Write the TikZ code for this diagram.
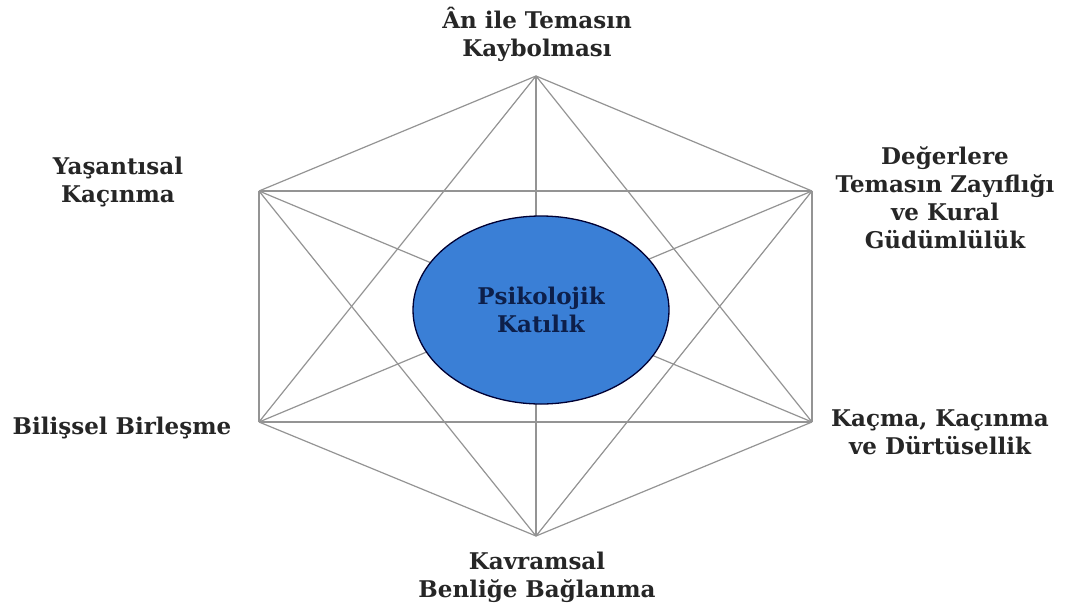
\documentclass[tikz,border=0pt]{standalone}
\usepackage{fontspec}
\setmainfont{DejaVu Serif}
\usetikzlibrary{shapes.geometric}
\begin{document}
\begin{tikzpicture}[x=1pt,y=-1pt,
  edge/.style={draw=black!42, line width=1.2pt},
  lbl/.style={align=center, font=\bfseries\fontsize{23}{28}\selectfont, text=black!85, inner sep=0pt},
  core/.style={ellipse, draw=black!80!blue, line width=1.3pt, fill=blueMain, minimum width=256pt, minimum height=188pt, inner sep=0pt, align=center, text=navyText, font=\bfseries\fontsize{23}{28}\selectfont}]
\definecolor{blueMain}{HTML}{3A7FD6}
\definecolor{navyText}{HTML}{0D1F4A}
\useasboundingbox (0,0) rectangle (1078,608);
\fill[white] (0,0) rectangle (1078,608);
\coordinate (T) at (536,76);
\coordinate (UL) at (259,191);
\coordinate (UR) at (812,191);
\coordinate (LL) at (259,422);
\coordinate (LR) at (812,422);
\coordinate (B) at (536,536);
\foreach \a/\b in {T/UL,T/UR,T/LL,T/LR,T/B,UL/UR,UL/LL,UL/LR,UL/B,UR/LL,UR/LR,UR/B,LL/LR,LL/B,LR/B}
  \draw[edge] (\a) -- (\b);
\node[core] (C) at (541,310) {Psikolojik\\Katılık};
\node[lbl] (tT) at (537,34) {Ân ile Temasın\\Kaybolması};
\node[lbl] (tUL) at (118,182) {Yaşantısal\\Kaçınma};
\node[lbl] (tUR) at (945,198) {Değerlere\\Temasın Zayıflığı\\ve Kural\\Güdümlülük};
\node[lbl] (tLL) at (122,428) {Bilişsel Birleşme};
\node[lbl] (tLR) at (940,432) {Kaçma, Kaçınma\\ve Dürtüsellik};
\node[lbl] (tB) at (537,577) {Kavramsal\\Benliğe Bağlanma};
\end{tikzpicture}
\end{document}
